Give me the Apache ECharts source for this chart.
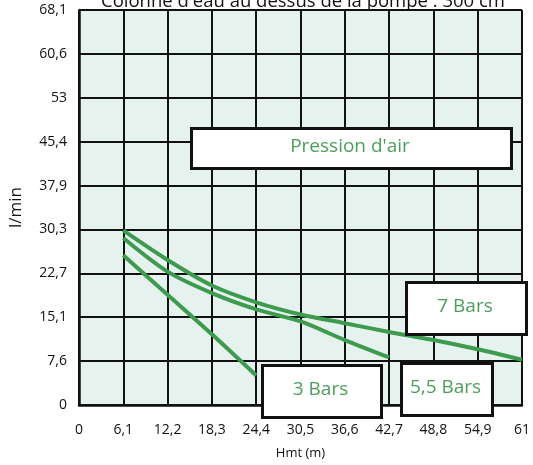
<!DOCTYPE html>
<html>
<head>
<meta charset="utf-8">
<script src="https://cdn.jsdelivr.net/npm/echarts@6/dist/echarts.min.js"></script>
<style>
  html, body { margin: 0; padding: 0; background: #fff; }
  #chart { width: 533px; height: 465px; }
</style>
</head>
<body>
<div id="chart"></div>
<script>
// tick labels as printed on the chart
const xLabels = ['0', '6,1', '12,2', '18,3', '24,4', '30,5', '36,6', '42,7', '48,8', '54,9', '61'];
const yLabels = ['0', '7,6', '15,1', '22,7', '30,3', '37,9', '45,4', '53', '60,6', '68,1'];

// Hmt (m) -> l/min
const bars7X = [6.1, 12.2, 18.3, 24.4, 30.5, 36.6, 42.7, 48.8, 54.9, 61];
const bars7Y = [30.1, 25.0, 20.6, 17.7, 15.6, 14.1, 12.6, 11.2, 9.6, 7.8];
const bars55X = [6.1, 12.2, 18.3, 24.4, 30.5, 36.6, 42.7];
const bars55Y = [28.8, 23.0, 19.3, 16.5, 14.4, 11.2, 8.2];
const bars3X = [6.1, 12.2, 18.3, 24.4];
const bars3Y = [25.8, 19.0, 12.2, 5.1];

const seriesNames = ['7 Bars', '5,5 Bars', '3 Bars'];

const xStep = 6.1;
const yStep = 68.1 / 9;
const lineGreen = '#3e9a4e';
const textGreen = '#4c9e5c';
const font = 'Open Sans';

const pairs = (xs, ys) => xs.map((x, i) => [x, ys[i]]);

function labelBox(x, y, w, h, text) {
    return [
        {
            type: 'rect',
            left: x,
            top: y,
            z: 100,
            shape: { width: w, height: h },
            style: { fill: '#ffffff', stroke: '#111', lineWidth: 3 }
        },
        {
            type: 'text',
            x: x + w / 2,
            y: y + h / 2,
            z: 101,
            style: {
                text: text,
                fill: textGreen,
                font: '19px "' + font + '"',
                align: 'center',
                verticalAlign: 'middle'
            }
        }
    ];
}

const chart = echarts.init(document.getElementById('chart'));

chart.setOption({
    backgroundColor: '#fff',
    animation: false,
    title: {
        text: "Colonne d'eau au dessus de la pompe : 300 cm",
        left: 96,
        top: -13,
        textStyle: { color: '#111', fontSize: 18.5, fontWeight: 'normal', fontFamily: font }
    },
    grid: {
        left: 78,
        right: 11,
        top: 10,
        bottom: 55,
        show: true,
        backgroundColor: '#e6f2ee',
        borderWidth: 0
    },
    xAxis: {
        type: 'value',
        min: 0,
        max: 61,
        interval: xStep,
        name: 'Hmt (m)',
        nameLocation: 'middle',
        nameGap: 42,
        nameTextStyle: { color: '#111', fontSize: 13, fontFamily: font },
        axisLine: { show: true, onZero: false, lineStyle: { color: '#111', width: 2.5 } },
        axisTick: { show: false },
        axisLabel: {
            color: '#111',
            fontSize: 14,
            fontFamily: font,
            margin: 18,
            formatter: v => xLabels[Math.round(v / xStep)]
        },
        splitLine: { show: true, lineStyle: { color: '#111', width: 2 } }
    },
    yAxis: {
        type: 'value',
        min: 0,
        max: 68.1,
        interval: yStep,
        name: 'l/min',
        nameLocation: 'middle',
        nameGap: 54,
        nameTextStyle: { color: '#111', fontSize: 17, fontFamily: font },
        axisLine: { show: true, onZero: false, lineStyle: { color: '#111', width: 2.5 } },
        axisTick: { show: false },
        axisLabel: {
            color: '#111',
            fontSize: 14,
            fontFamily: font,
            margin: 12,
            formatter: v => yLabels[Math.round(v / yStep)]
        },
        splitLine: { show: true, lineStyle: { color: '#111', width: 2 } }
    },
    series: [
        { name: seriesNames[0], data: pairs(bars7X, bars7Y) },
        { name: seriesNames[1], data: pairs(bars55X, bars55Y) },
        { name: seriesNames[2], data: pairs(bars3X, bars3Y) }
    ].map(s => Object.assign({
        type: 'line',
        smooth: 0.3,
        showSymbol: false,
        lineStyle: { color: lineGreen, width: 4 },
        z: 5
    }, s)),
    graphic: [].concat(
        labelBox(190, 127, 320, 40, "Pression d'air"),
        labelBox(405, 281, 120, 52, seriesNames[0]),
        labelBox(261, 364, 119, 52, seriesNames[2]),
        labelBox(400, 362, 91, 52, seriesNames[1])
    )
});
</script>
</body>
</html>
